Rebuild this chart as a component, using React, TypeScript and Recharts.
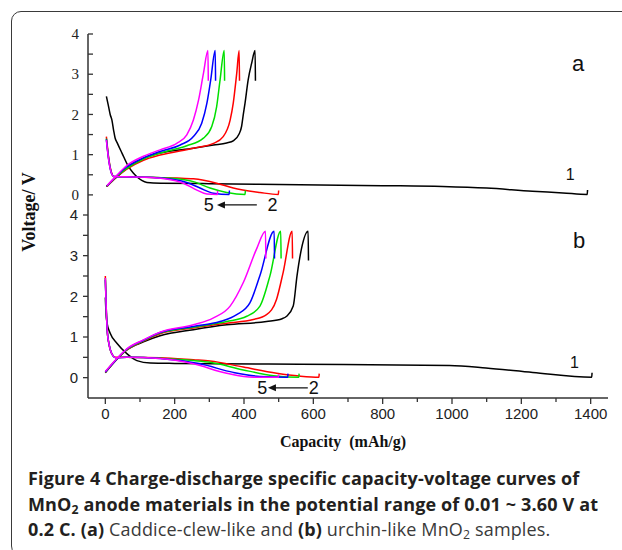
import React from 'react';
import { LineChart, Line, XAxis, YAxis, ReferenceDot, ReferenceLine } from 'recharts';

type Pt = [number, number];

// capacity (mAh/g), voltage (V) -- panel a, caddice-clew-like
const aDis1: Pt[] = [[3, 2.45], [8, 2.25], [14, 2.0], [19, 1.86], [24, 1.6], [28, 1.42], [34, 1.3], [48, 1.04], [67, 0.7], [80, 0.55], [91, 0.45], [105, 0.36], [120, 0.31], [160, 0.29], [300, 0.28], [561, 0.25], [800, 0.23], [973, 0.21], [1100, 0.17], [1232, 0.09], [1320, 0.05], [1390, 0.01], [1391, 0.12]];
const aDis2: Pt[] = [[3, 1.45], [10, 0.9], [18, 0.55], [24, 0.46], [60, 0.45], [110, 0.44], [206, 0.42], [254, 0.4], [321, 0.29], [369, 0.17], [446, 0.06], [499, 0.01], [500, 0.11]];
const aDis3: Pt[] = [[3, 1.4], [10, 0.88], [18, 0.54], [24, 0.46], [60, 0.45], [110, 0.44], [206, 0.4], [254, 0.33], [302, 0.17], [350, 0.06], [403, 0.01], [404, 0.11]];
const aDis4: Pt[] = [[3, 1.38], [10, 0.86], [18, 0.53], [24, 0.46], [60, 0.45], [110, 0.44], [180, 0.4], [235, 0.31], [273, 0.17], [312, 0.04], [357, 0.01], [358, 0.11]];
const aDis5: Pt[] = [[3, 1.36], [10, 0.85], [18, 0.53], [24, 0.46], [60, 0.45], [110, 0.44], [170, 0.4], [225, 0.29], [264, 0.12], [293, 0.02], [323, 0.01], [324, 0.1]];

const aChg1: Pt[] = [[3, 0.21], [30, 0.42], [62, 0.66], [110, 0.91], [158, 1.04], [254, 1.16], [312, 1.24], [350, 1.29], [370, 1.35], [385, 1.5], [393, 1.7], [398, 2.0], [403, 2.28], [412, 2.86], [422, 3.27], [432, 3.59], [433, 2.84]];
const aChg2: Pt[] = [[5, 0.21], [30, 0.43], [62, 0.64], [110, 0.86], [158, 0.99], [254, 1.16], [312, 1.28], [340, 1.45], [360, 1.86], [369, 2.28], [379, 3.02], [386, 3.59], [387, 2.84]];
const aChg3: Pt[] = [[5, 0.22], [30, 0.44], [62, 0.66], [110, 0.89], [158, 1.04], [235, 1.22], [283, 1.41], [307, 1.7], [321, 2.19], [331, 2.86], [343, 3.59], [344, 2.84]];
const aChg4: Pt[] = [[5, 0.22], [30, 0.45], [62, 0.7], [110, 0.92], [158, 1.08], [216, 1.24], [254, 1.45], [278, 1.78], [293, 2.28], [304, 2.86], [317, 3.59], [318, 2.84]];
const aChg5: Pt[] = [[5, 0.23], [30, 0.46], [62, 0.73], [110, 0.96], [158, 1.12], [206, 1.28], [235, 1.49], [254, 1.86], [269, 2.36], [283, 3.02], [296, 3.59], [297, 2.84]];

// panel b, urchin-like
const bDis1: Pt[] = [[0, 1.97], [2, 1.6], [5, 1.34], [14, 1.09], [34, 0.84], [62, 0.59], [91, 0.42], [130, 0.36], [200, 0.35], [561, 0.33], [993, 0.3], [1098, 0.24], [1233, 0.13], [1403, 0.01], [1404, 0.12]];
const bDis2: Pt[] = [[0, 2.5], [3, 1.6], [6, 1.1], [10, 0.85], [18, 0.6], [30, 0.5], [62, 0.5], [158, 0.49], [254, 0.44], [302, 0.41], [398, 0.26], [494, 0.11], [560, 0.04], [616, 0.01], [617, 0.1]];
const bDis3: Pt[] = [[0, 2.45], [3, 1.6], [6, 1.1], [10, 0.85], [18, 0.6], [30, 0.49], [62, 0.5], [158, 0.48], [254, 0.42], [302, 0.38], [398, 0.19], [485, 0.05], [558, 0.01], [559, 0.1]];
const bDis4: Pt[] = [[0, 2.4], [3, 1.6], [6, 1.1], [10, 0.85], [18, 0.6], [30, 0.49], [62, 0.5], [158, 0.47], [273, 0.34], [369, 0.13], [446, 0.03], [526, 0.01], [527, 0.1]];
const bDis5: Pt[] = [[0, 2.45], [3, 1.6], [6, 1.1], [10, 0.85], [18, 0.6], [30, 0.49], [62, 0.5], [158, 0.47], [254, 0.34], [350, 0.11], [427, 0.01], [499, 0.01], [500, 0.08]];

const bChg1: Pt[] = [[0, 0.12], [30, 0.42], [62, 0.68], [110, 0.88], [158, 1.03], [254, 1.18], [350, 1.3], [465, 1.38], [510, 1.45], [523, 1.51], [542, 1.76], [553, 2.51], [566, 3.18], [585, 3.6], [586, 2.88]];
const bChg2: Pt[] = [[0, 0.13], [30, 0.42], [62, 0.68], [110, 0.9], [158, 1.08], [254, 1.22], [350, 1.34], [427, 1.43], [465, 1.55], [494, 1.93], [513, 2.59], [539, 3.6], [540, 2.93]];
const bChg3: Pt[] = [[0, 0.14], [30, 0.43], [62, 0.69], [110, 0.91], [158, 1.1], [254, 1.24], [350, 1.38], [408, 1.51], [446, 1.76], [475, 2.51], [506, 3.6], [507, 2.93]];
const bChg4: Pt[] = [[0, 0.14], [30, 0.43], [62, 0.7], [110, 0.92], [158, 1.11], [254, 1.26], [331, 1.38], [379, 1.55], [417, 1.84], [446, 2.51], [487, 3.6], [488, 2.93]];
const bChg5: Pt[] = [[0, 0.15], [30, 0.44], [62, 0.71], [110, 0.93], [158, 1.12], [254, 1.3], [312, 1.47], [360, 1.76], [398, 2.34], [437, 3.18], [462, 3.6], [463, 2.93]];

const cycleColors = ['#000000', '#ff0000', '#00e000', '#0000ff', '#ff00ff'];
const capTicks = [0, 100, 200, 300, 400, 500, 600, 700, 800, 900, 1000, 1100, 1200, 1300, 1400];
const voltTicks = [0, 0.5, 1, 1.5, 2, 2.5, 3, 3.5, 4];

const aCurves = [aDis1, aChg1, aDis2, aChg2, aDis3, aChg3, aDis4, aChg4, aDis5, aChg5];
const bCurves = [bDis1, bChg1, bDis2, bChg2, bDis3, bChg3, bDis4, bChg4, bDis5, bChg5];

const toRows = (pts: Pt[]) => pts.map(([c, v]) => ({ c, v }));

const AXIS = '#333';
const SANS = '"Liberation Sans", Arial, sans-serif';
const SERIF = '"Liberation Serif", "Times New Roman", serif';

const YTickIn = (props: any) => {
  const { x, y, payload } = props;
  const major = Number.isInteger(payload.value);
  return (
    <g>
      <line x1={x} x2={x + 5} y1={y} y2={y} stroke={AXIS} strokeWidth={1.3} />
      {major && (
        <text x={x - 9} y={y} dy="0.35em" textAnchor="end" fontFamily={SERIF} fontSize={15} fill="#222">
          {payload.value}
        </text>
      )}
    </g>
  );
};

const YTickOut = (props: any) => {
  const { x, y, payload } = props;
  const major = Number.isInteger(payload.value);
  return (
    <g>
      <line x1={x - 5} x2={x} y1={y} y2={y} stroke={AXIS} strokeWidth={1.3} />
      {major && (
        <text x={x - 10} y={y} dy="0.35em" textAnchor="end" fontFamily={SANS} fontSize={15} fill="#222">
          {payload.value}
        </text>
      )}
    </g>
  );
};

const XTickOut = (props: any) => {
  const { x, y, payload } = props;
  const major = payload.value % 200 === 0;
  return (
    <g>
      <line x1={x} x2={x} y1={y} y2={y + (major ? 6 : 4)} stroke={AXIS} strokeWidth={1.3} />
      {major && (
        <text x={x} y={y + 16} dy="0.35em" textAnchor="middle" fontFamily={SANS} fontSize={15} fill="#222">
          {payload.value}
        </text>
      )}
    </g>
  );
};

const textMark = (txt: string, size: number) => (p: any) => (
  <text x={p.cx} y={p.cy} dy="0.35em" textAnchor="middle" fontFamily={SANS} fontSize={size} fill="#111">
    {txt}
  </text>
);

const arrowShape = (p: any) => (
  <g>
    <line x1={p.x1} y1={p.y1} x2={p.x2 + 6} y2={p.y2} stroke="#111" strokeWidth={1.3} />
    <polygon points={`${p.x2},${p.y2} ${p.x2 + 8},${p.y2 - 3.5} ${p.x2 + 8},${p.y2 + 3.5}`} fill="#111" />
  </g>
);

const capDomain: [number, number] = [-50, 1450];
const voltDomain: [number, number] = [-0.5, 4];

const renderCurves = (curves: Pt[][]) =>
  curves.map((pts, i) => (
    <Line
      key={i}
      xAxisId="x"
      yAxisId="y"
      data={toRows(pts)}
      dataKey="v"
      type="monotone"
      stroke={cycleColors[Math.floor(i / 2)]}
      strokeWidth={1.5}
      dot={false}
      activeDot={false}
      isAnimationActive={false}
    />
  ));

const Panel: React.FC<{ which: 'a' | 'b' }> = ({ which }) => {
  const isA = which === 'a';
  const curves = isA ? aCurves : bCurves;
  const arrowFrom = isA ? 437 : 584;
  const arrowTo = isA ? 322 : 469;
  return (
    <LineChart
      width={622}
      height={isA ? 216 : 430}
      margin={isA ? { top: 34, right: 14, bottom: 1, left: 48 } : { top: 215, right: 14, bottom: 0, left: 48 }}
    >
      <XAxis
        xAxisId="x"
        dataKey="c"
        type="number"
        domain={capDomain}
        ticks={capTicks}
        interval={0}
        allowDataOverflow
        height={isA ? 0 : 32}
        tick={isA ? false : <XTickOut />}
        tickLine={false}
        tickSize={0}
        tickMargin={0}
        axisLine={{ stroke: AXIS, strokeWidth: 1.5 }}
      />
      <XAxis xAxisId="top" orientation="top" dataKey="c" type="number" domain={capDomain} height={0} tick={false} tickLine={false} axisLine={{ stroke: AXIS, strokeWidth: 1.5 }} />
      <YAxis
        yAxisId="y"
        type="number"
        domain={voltDomain}
        ticks={voltTicks}
        interval={0}
        allowDataOverflow
        width={40}
        tick={isA ? <YTickIn /> : <YTickOut />}
        tickLine={false}
        tickSize={0}
        tickMargin={0}
        axisLine={{ stroke: AXIS, strokeWidth: 1.5 }}
      />
      <YAxis yAxisId="right" orientation="right" type="number" domain={voltDomain} width={0} tick={false} tickLine={false} axisLine={{ stroke: AXIS, strokeWidth: 1.5 }} />
      {renderCurves(curves)}
      <ReferenceDot xAxisId="x" yAxisId="y" x={isA ? 1364 : 1367} y={isA ? 3.28 : 3.38} r={0} shape={textMark(which, 22)} />
      <ReferenceDot xAxisId="x" yAxisId="y" x={isA ? 1341 : 1353} y={isA ? 0.5 : 0.375} r={0} shape={textMark('1', 16)} />
      <ReferenceDot xAxisId="x" yAxisId="y" x={isA ? 298 : 453} y={-0.25} r={0} shape={textMark('5', 18)} />
      <ReferenceDot xAxisId="x" yAxisId="y" x={isA ? 482 : 601} y={-0.25} r={0} shape={textMark('2', 18)} />
      <ReferenceLine
        xAxisId="x"
        yAxisId="y"
        segment={[{ x: arrowFrom, y: -0.25 }, { x: arrowTo, y: -0.25 }]}
        shape={arrowShape}
      />
    </LineChart>
  );
};

const bold: React.CSSProperties = { fontWeight: 700, color: '#231f20' };
const light: React.CSSProperties = { fontWeight: 400, color: '#3a3a3a' };
const sub: React.CSSProperties = { fontSize: '0.68em', verticalAlign: '-0.25em', lineHeight: 0 };

export default function App() {
  return (
    <div style={{ position: 'absolute', left: 0, top: 0, width: 622, height: 550, overflow: 'hidden', background: '#fff' }}>
      <div
        style={{
          position: 'absolute',
          left: 11,
          top: 11,
          width: 660,
          height: 545,
          boxSizing: 'border-box',
          border: '1.5px solid #3a3a3a',
          borderRadius: 10,
        }}
      />
      <div style={{ position: 'absolute', left: 0, top: 0 }}>
        <Panel which="a" />
      </div>
      <div style={{ position: 'absolute', left: 0, top: 0 }}>
        <Panel which="b" />
      </div>
      <div
        style={{
          position: 'absolute',
          left: 29,
          top: 212,
          transform: 'translate(-50%, -50%) rotate(-90deg)',
          fontFamily: SERIF,
          fontWeight: 700,
          fontSize: 18,
          whiteSpace: 'nowrap',
          color: '#111',
        }}
      >
        Voltage/ V
      </div>
      <div
        style={{
          position: 'absolute',
          left: 343,
          top: 442,
          transform: 'translate(-50%, -50%)',
          fontFamily: SERIF,
          fontWeight: 700,
          fontSize: 16,
          whiteSpace: 'pre',
          color: '#111',
        }}
      >
        {'Capacity  (mAh/g)'}
      </div>
      <div
        style={{
          position: 'absolute',
          left: 28,
          top: 466,
          fontFamily: '"Open Sans", "Noto Sans", sans-serif',
          fontSize: 18,
          letterSpacing: 0.15,
          lineHeight: '25.5px',
          whiteSpace: 'nowrap',
        }}
      >
        <div style={bold}>Figure 4 Charge-discharge specific capacity-voltage curves of</div>
        <div style={bold}>
          MnO<span style={sub}>2</span> anode materials in the potential range of 0.01 ~ 3.60 V at
        </div>
        <div>
          <span style={bold}>0.2 C. (a)</span>
          <span style={light}> Caddice-clew-like and </span>
          <span style={bold}>(b)</span>
          <span style={light}>
            {' '}urchin-like MnO<span style={sub}>2</span> samples.
          </span>
        </div>
      </div>
    </div>
  );
}
